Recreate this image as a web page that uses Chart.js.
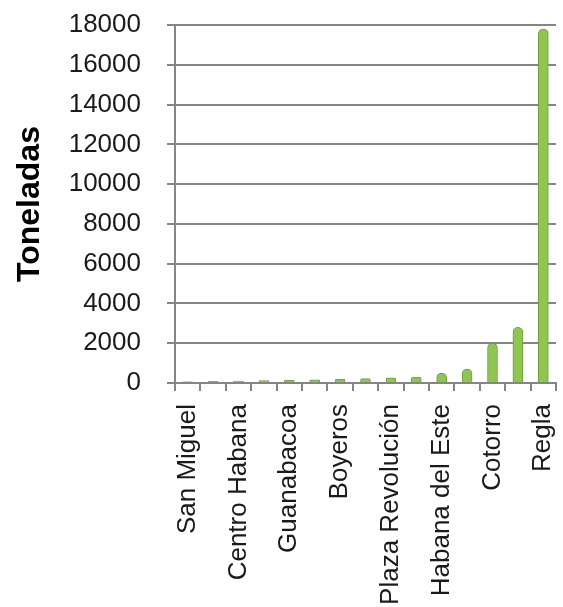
<!DOCTYPE html>
<html>
<head>
<meta charset="utf-8">
<script src="https://cdn.jsdelivr.net/npm/chart.js@4/dist/chart.umd.min.js"></script>
<style>
  html, body { margin: 0; padding: 0; background: #fff; }
  #wrap { width: 563px; height: 607px; }
</style>
</head>
<body>
<div id="wrap"><canvas class="js-toneladas" width="563" height="607"></canvas></div>
<script>
// municipios, ordenados de menor a mayor (solo se rotula uno de cada dos)
const municipios = [
  "San Miguel", "Arroyo Naranjo", "Centro Habana", "Diez de Octubre",
  "Guanabacoa", "Cerro", "Boyeros", "La Lisa", "Plaza Revolución",
  "Playa", "Habana del Este", "Marianao", "Cotorro", "Habana Vieja", "Regla"
];
const toneladas = [60, 80, 100, 120, 140, 160, 190, 220, 260, 300, 480, 700, 2000, 2800, 17800];
const yMin = 0;
const yMax = 18000;
const yStep = 2000;

const drawChartToneladas = () => {
  const chartHTML = document.querySelector(".js-toneladas");
  if (!chartHTML) {
    return;
  }
  const chart = chartHTML.getContext("2d");

  chartHTML.graph = new Chart(chart, {
    type: "bar",
    data: {
      labels: municipios,
      datasets: [
        {
          label: "Toneladas",
          data: toneladas,
          barThickness: 10,
          backgroundColor: "#8fc652",
          borderColor: "#6f9f36",
          borderWidth: 1,
          borderSkipped: "bottom",
          borderRadius: { topLeft: 5, topRight: 5, bottomLeft: 0, bottomRight: 0 },
        },
      ],
    },
    options: {
      responsive: false,
      maintainAspectRatio: false,
      animation: false,
      layout: {
        padding: { top: 25, right: 7, bottom: 0, left: 0 },
      },
      plugins: {
        legend: { display: false },
        tooltip: { enabled: false },
      },
      scales: {
        x: {
          afterFit: (scale) => {
            scale.height = 224;
            scale.paddingLeft = 0;
            scale.paddingRight = 0;
          },
          grid: {
            drawOnChartArea: false,
            drawTicks: true,
            tickLength: 8,
            color: "#858585",
            lineWidth: 2,
          },
          border: { color: "#858585", width: 2 },
          ticks: {
            autoSkip: false,
            maxRotation: 90,
            minRotation: 90,
            padding: 13,
            color: "#1a1a1a",
            font: { family: "Liberation Sans", size: 26 },
            callback: function (value, index) {
              return index % 2 === 0 ? this.getLabelForValue(value) : "";
            },
          },
        },
        y: {
          min: yMin,
          max: yMax,
          afterFit: (scale) => {
            scale.width = 175;
            scale.paddingTop = 0;
            scale.paddingBottom = 0;
          },
          grid: {
            color: "#858585",
            lineWidth: 2,
            tickLength: 8,
          },
          border: { color: "#858585", width: 2 },
          ticks: {
            stepSize: yStep,
            padding: 26,
            color: "#1a1a1a",
            font: { family: "Liberation Sans", size: 26 },
            callback: (value) => String(value),
          },
          title: {
            display: true,
            text: "Toneladas",
            color: "#000",
            padding: { top: 11, bottom: 0 },
            font: { family: "Liberation Sans", size: 32, weight: "bold" },
          },
        },
      },
    },
  });
};

drawChartToneladas();
</script>
</body>
</html>
